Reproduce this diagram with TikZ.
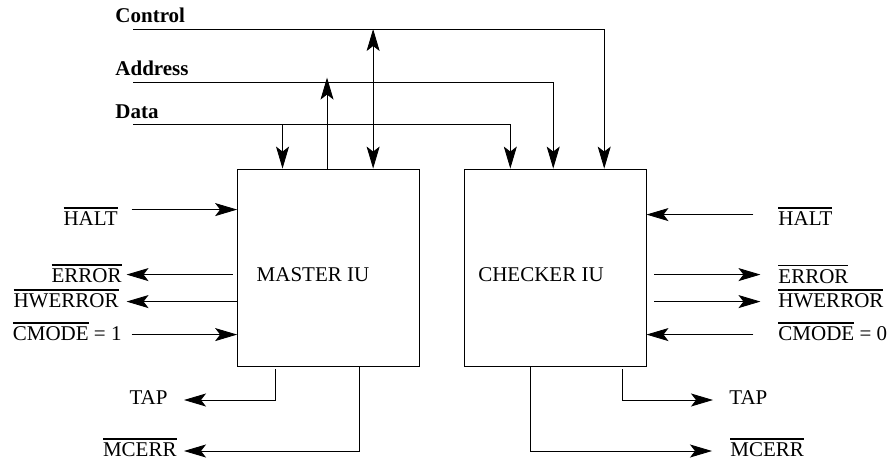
\documentclass[tikz,border=0pt]{standalone}
\usepackage{fontspec}
\setmainfont{Liberation Serif}
\usetikzlibrary{arrows.meta}
\newcommand{\ovl}[1]{\leavevmode\vbox{\hrule height 1.1pt\kern 2.6pt\hbox{#1}}}
\begin{document}
\begin{tikzpicture}[x=1pt,y=-1pt,
  line width=0.85pt,
  >={Stealth[length=22pt,width=13pt,inset=5pt]},
  unitbox/.style={draw, minimum width=181.5pt, minimum height=197pt, inner sep=0},
  lbl/.style={inner sep=0, font=\fontsize{21}{25}\selectfont},
  buslbl/.style={inner sep=0, anchor=base west, font=\bfseries\fontsize{21}{25}\selectfont}]
\useasboundingbox (0,0) rectangle (892,461);

% units
\node[unitbox] (master) at (328.3,267.5) {};
\node[unitbox] (checker) at (555.3,267.5) {};
\node[lbl, anchor=base] (mtxt) at (313,281) {MASTER IU};
\node[lbl, anchor=base] (ctxt) at (541,281) {CHECKER IU};

% buses
\node[buslbl] (lc) at (115,22) {Control};
\node[buslbl] (la) at (115,75) {Address};
\node[buslbl] (ld) at (115,118) {Data};
\coordinate (cS) at (133,29);
\coordinate (aS) at (133,82);
\coordinate (dS) at (133,124);

\coordinate (mD) at ([xshift=45.4pt]master.north west);
\coordinate (mA) at ([xshift=89.9pt]master.north west);
\coordinate (mC) at ([xshift=136pt]master.north west);
\coordinate (kD) at ([xshift=46.2pt]checker.north west);
\coordinate (kA) at ([xshift=89.1pt]checker.north west);
\coordinate (kC) at ([xshift=140.1pt]checker.north west);

\draw[->] (dS) -| (kD);
\draw[->] (aS) -| (kA);
\draw[->] (cS) -| (kC);
\draw[->] (mD |- dS) -- (mD);
\draw[->] (mA) -- ++(0,-91);
\draw[<->] (mC |- cS) -- (mC);

% master side signals
\coordinate (mH) at ([yshift=-41pt]master.north west);
\coordinate (mE) at ([yshift=-106pt]master.north west);
\coordinate (mW) at ([yshift=-133pt]master.north west);
\coordinate (mM) at ([yshift=-166pt]master.north west);
\draw[->] ([xshift=-105.6pt]mH) -- (mH);
\draw[->] ([xshift=-4.6pt]mE) -- ([xshift=-110.6pt]mE);
\draw[->] (mW) -- ([xshift=-110.6pt]mW);
\draw[->] ([xshift=-105.6pt]mM) -- (mM);
\node[lbl, anchor=base east] (lH) at (118,225) {\ovl{HALT}};
\node[lbl, anchor=base east] (lE) at (122,282) {\ovl{ERROR}};
\node[lbl, anchor=base east] (lW) at (119,307) {\ovl{HWERROR}};
\node[lbl, anchor=base east] (lM) at (122,340) {\ovl{CMODE} = 1};

% checker side signals
\coordinate (kH) at ([yshift=-46pt]checker.north east);
\coordinate (kE) at ([yshift=-106pt]checker.north east);
\coordinate (kW) at ([yshift=-133pt]checker.north east);
\coordinate (kM) at ([yshift=-166pt]checker.north east);
\draw[->] ([xshift=107pt]kH) -- (kH);
\draw[->] ([xshift=8pt]kE) -- ([xshift=114pt]kE);
\draw[->] ([xshift=8pt]kW) -- ([xshift=114pt]kW);
\draw[->] ([xshift=107pt]kM) -- (kM);
\node[lbl, anchor=base west] (rH) at (778,225) {\ovl{HALT}};
\node[lbl, anchor=base west] (rE) at (778,283) {\ovl{ERROR}};
\node[lbl, anchor=base west] (rW) at (778,307) {\ovl{HWERROR}};
\node[lbl, anchor=base west] (rM) at (778,340) {\ovl{CMODE} = 0};

% bottom signals
\coordinate (mT) at ([xshift=37.9pt,yshift=-3pt]master.south west);
\coordinate (mX) at ([xshift=122.4pt]master.south west);
\coordinate (kX) at ([xshift=66pt]checker.south west);
\coordinate (kT) at ([xshift=158.5pt,yshift=-3pt]checker.south west);
\coordinate (tapL) at (184,400);
\coordinate (mcL) at (184,451);
\coordinate (tapR) at (713,400);
\coordinate (mcR) at (712,451);
\draw[->] (mT) |- (tapL);
\draw[->] (mX) |- (mcL);
\draw[->] (kX) |- (mcR);
\draw[->] (kT) |- (tapR);
\node[lbl, anchor=base east] (bT) at (168,404) {TAP};
\node[lbl, anchor=base east] (bM) at (177,456) {\ovl{MCERR}};
\node[lbl, anchor=base west] (bT2) at (729,404) {TAP};
\node[lbl, anchor=base west] (bM2) at (730,456) {\ovl{MCERR}};
\end{tikzpicture}
\end{document}
